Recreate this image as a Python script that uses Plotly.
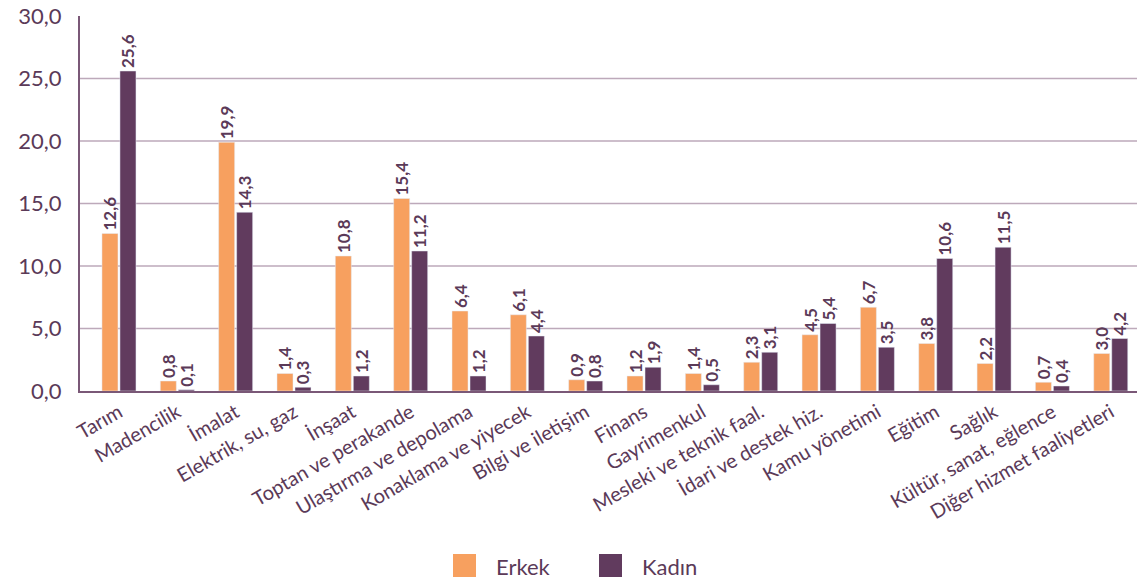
import plotly.graph_objects as go

categories = ["Tarım", "Madencilik", "İmalat", "Elektrik, su, gaz", "İnşaat",
              "Toptan ve perakande", "Ulaştırma ve depolama", "Konaklama ve yiyecek",
              "Bilgi ve iletişim", "Finans", "Gayrimenkul", "Mesleki ve teknik faal.",
              "İdari ve destek hiz.", "Kamu yönetimi", "Eğitim", "Sağlık",
              "Kültür, sanat, eğlence", "Diğer hizmet faaliyetleri"]
erkek = [12.6, 0.8, 19.9, 1.4, 10.8, 15.4, 6.4, 6.1, 0.9, 1.2, 1.4, 2.3, 4.5, 6.7, 3.8, 2.2, 0.7, 3.0]
kadin = [25.6, 0.1, 14.3, 0.3, 1.2, 11.2, 1.2, 4.4, 0.8, 1.9, 0.5, 3.1, 5.4, 3.5, 10.6, 11.5, 0.4, 4.2]
y_ticks = [0, 5, 10, 15, 20, 25, 30]
series_names = ["Erkek", "Kadın"]

ORANGE = "#F7A05F"
PURPLE = "#613B5E"
TEXT = "#5B3A58"
GRID = "#BDA9BA"
AXIS = "#7A5877"
FONT = "Lato"

W, H = 1137, 581
ML, MR, MT, MB = 80, 0, 16, 581 - 391
PW = W - ML - MR
PH = H - MT - MB

def fmt(v):
    return f"{v:.1f}".replace(".", ",")

fig = go.Figure()
x_idx = list(range(len(categories)))
for vals, col, nm in [(erkek, ORANGE, series_names[0]), (kadin, PURPLE, series_names[1])]:
    fig.add_trace(go.Bar(x=x_idx, y=vals, name=nm, marker_color=col,
                         text=[fmt(v) for v in vals], textposition="outside",
                         textangle=-90, cliponaxis=False, showlegend=False,
                         constraintext="none",
                         textfont=dict(color=TEXT, size=17, family=FONT, weight="bold")))

# horizontal gridlines (all ticks except the axis baseline and the top)
for v in y_ticks[1:-1]:
    fig.add_shape(type="line", xref="paper", yref="y", x0=0, x1=1, y0=v, y1=v,
                  line=dict(color=GRID, width=1.5), layer="below")

# legend drawn as squares + labels (paper coords, reference pixel positions)
def px_x(p):
    return (p - ML) / PW

def px_y(p):
    return (H - MB - p) / PH

legend_items = [(series_names[0], ORANGE, 453), (series_names[1], PURPLE, 599)]
for nm, col, x0 in legend_items:
    fig.add_shape(type="rect", xref="paper", yref="paper",
                  x0=px_x(x0), x1=px_x(x0 + 23), y0=px_y(577), y1=px_y(554),
                  fillcolor=col, line=dict(width=0))
    fig.add_annotation(xref="paper", yref="paper", x=px_x(x0 + 41), y=px_y(566),
                       text=nm, showarrow=False, xanchor="left", yanchor="middle",
                       font=dict(size=22, color=TEXT, family=FONT))

fig.update_layout(
    width=W, height=H,
    margin=dict(l=ML, r=MR, t=MT, b=MB, autoexpand=False),
    plot_bgcolor="white", paper_bgcolor="white",
    barmode="group", bargap=0.383, bargroupgap=0.11,
    separators=",.",
    font=dict(family=FONT, color=TEXT),
    showlegend=False,
)
fig.update_xaxes(range=[-0.668, 17.45], tickmode="array", tickvals=x_idx, ticktext=categories,
                 tickangle=-30, tickfont=dict(size=20, color=TEXT, family=FONT),
                 showline=True, linecolor=AXIS, linewidth=2, ticks="", showgrid=False,
                 automargin=False)
fig.update_yaxes(range=[0, 30.001], tickmode="array", tickvals=y_ticks,
                 ticktext=[fmt(v) for v in y_ticks],
                 tickfont=dict(size=22, color=TEXT, family=FONT),
                 showline=True, linecolor=AXIS, linewidth=2,
                 showgrid=False, ticks="", zeroline=False,
                 ticklabelstandoff=12, automargin=False, ticklabeloverflow="allow")

fig.write_html("out.html", config={"displayModeBar": False},
               post_script="document.body.style.margin='0';document.body.style.overflow='hidden';")
